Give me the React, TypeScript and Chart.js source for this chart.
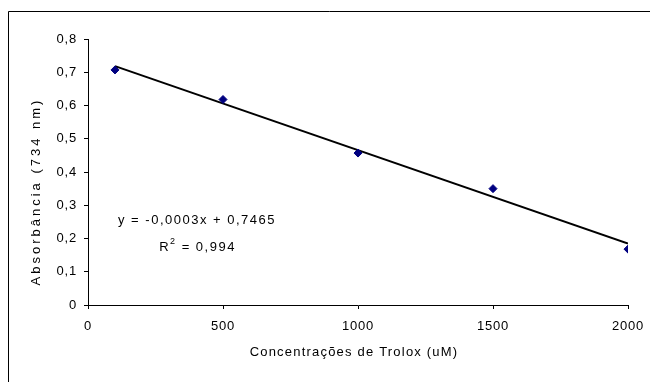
import React, { useEffect, useRef } from 'react';
import { Chart, registerables } from 'chart.js';

Chart.register(...registerables);

// ---- data ----
const concentrations = [100, 500, 1000, 1500, 2000];
const absorbance = [0.707, 0.618, 0.457, 0.35, 0.168];
const xTickValues = [0, 500, 1000, 1500, 2000];
const yTickValues = [0, 0.1, 0.2, 0.3, 0.4, 0.5, 0.6, 0.7, 0.8];
const xTitle = 'Concentrações de Trolox (uM)';
const yTitle = 'Absorbância (734 nm)';
const equationText = 'y = -0,0003x + 0,7465';
const r2Symbol = 'R';
const r2Exponent = '2';
const r2Value = ' = 0,994';

const FONT = '"Liberation Sans", Arial, sans-serif';

function linearFit(xs: number[], ys: number[]) {
  const n = xs.length;
  const mx = xs.reduce((a, b) => a + b, 0) / n;
  const my = ys.reduce((a, b) => a + b, 0) / n;
  let sxy = 0;
  let sxx = 0;
  for (let i = 0; i < n; i++) {
    sxy += (xs[i] - mx) * (ys[i] - my);
    sxx += (xs[i] - mx) * (xs[i] - mx);
  }
  const slope = sxy / sxx;
  return { slope, intercept: my - slope * mx };
}

const fit = linearFit(concentrations, absorbance);
const trendX = [Math.min(...concentrations), Math.max(...concentrations)];
const trendPoints = trendX.map((x) => ({ x, y: fit.slope * x + fit.intercept }));
const points = concentrations.map((x, i) => ({ x, y: absorbance[i] }));

const framePlugin = {
  id: 'frameAndText',
  beforeDraw(chart: any) {
    const ctx = chart.ctx;
    ctx.save();
    ctx.fillStyle = '#ffffff';
    ctx.fillRect(0, 0, chart.width, chart.height);
    ctx.strokeStyle = '#000000';
    ctx.lineWidth = 1;
    ctx.beginPath();
    ctx.moveTo(8.5, chart.height);
    ctx.lineTo(8.5, 11.5);
    ctx.lineTo(chart.width, 11.5);
    ctx.stroke();
    ctx.restore();
    ctx.letterSpacing = '0.8px';
  },
  afterDraw(chart: any) {
    const ctx = chart.ctx;
    ctx.save();
    ctx.fillStyle = '#000000';
    ctx.font = `13px ${FONT}`;
    ctx.textBaseline = 'middle';
    ctx.textAlign = 'center';

    // x axis title
    ctx.letterSpacing = '1.2px';
    ctx.fillText(xTitle, 354, 352.5);

    // y axis title
    ctx.save();
    ctx.translate(36.5, 191.5);
    ctx.rotate(-Math.PI / 2);
    ctx.letterSpacing = '3px';
    ctx.fillText(yTitle, 0, 0);
    ctx.restore();

    // trendline equation
    ctx.letterSpacing = '1.5px';
    ctx.fillText(equationText, 197, 220);

    ctx.textAlign = 'left';
    const wR = ctx.measureText(r2Symbol).width;
    const wV = ctx.measureText(r2Value).width;
    ctx.font = `9px ${FONT}`;
    const wE = ctx.measureText(r2Exponent).width;
    const total = wR + wE + wV;
    let x = 197.5 - total / 2;
    ctx.font = `13px ${FONT}`;
    ctx.fillText(r2Symbol, x, 247.5);
    x += wR;
    ctx.font = `9px ${FONT}`;
    ctx.fillText(r2Exponent, x, 241.5);
    x += wE;
    ctx.font = `13px ${FONT}`;
    ctx.fillText(r2Value, x, 247.5);

    ctx.restore();
    ctx.letterSpacing = '0px';
  },
};

export default function App() {
  const canvasRef = useRef<HTMLCanvasElement | null>(null);

  useEffect(() => {
    const canvas = canvasRef.current;
    if (!canvas) return;
    const chart = new Chart(canvas, {
      type: 'scatter',
      data: {
        datasets: [
          {
            type: 'line',
            label: 'Linear',
            data: trendPoints,
            borderColor: '#000000',
            borderWidth: 2,
            pointRadius: 0,
            fill: false,
            order: 2,
          },
          {
            label: 'Absorbância',
            data: points,
            backgroundColor: '#000080',
            borderColor: '#000080',
            pointStyle: 'rectRot',
            pointRadius: 4,
            borderWidth: 1,
            order: 1,
          },
        ],
      } as any,
      options: {
        animation: false,
        responsive: false,
        devicePixelRatio: 1,
        layout: { padding: { left: 0, top: 39, right: 22, bottom: 0 } },
        plugins: {
          legend: { display: false },
          tooltip: { enabled: false },
        },
        scales: {
          x: {
            type: 'linear',
            min: 0,
            max: 2000,
            afterFit: (scale: any) => {
              scale.height = 77;
              scale.paddingLeft = 0;
              scale.paddingRight = 0;
            },
            afterBuildTicks: (scale: any) => {
              scale.ticks = xTickValues.map((v) => ({ value: v }));
            },
            ticks: {
              color: '#000000',
              font: { family: FONT, size: 13 },
              padding: 10,
              maxRotation: 0,
              callback: (v: any) => String(v),
            },
            grid: { display: true, drawOnChartArea: false, drawTicks: true, tickLength: 4, color: '#000000' },
            border: { display: true, color: '#000000', width: 1 },
          },
          y: {
            type: 'linear',
            min: 0,
            max: 0.8,
            afterFit: (scale: any) => {
              scale.width = 88;
              scale.paddingTop = 0;
              scale.paddingBottom = 0;
            },
            afterBuildTicks: (scale: any) => {
              scale.ticks = yTickValues.map((v) => ({ value: v }));
            },
            ticks: {
              color: '#000000',
              font: { family: FONT, size: 13 },
              padding: 7,
              callback: (v: any) => (v === 0 ? '0' : Number(v).toFixed(1).replace('.', ',')),
            },
            grid: { display: true, drawOnChartArea: false, drawTicks: true, tickLength: 4, color: '#000000' },
            border: { display: true, color: '#000000', width: 1 },
          },
        },
      } as any,
      plugins: [framePlugin],
    });
    return () => chart.destroy();
  }, []);

  return (
    <div style={{ position: 'absolute', left: 0, top: 0, width: 650, height: 382, background: '#ffffff' }}>
      <canvas ref={canvasRef} width={650} height={382} style={{ display: 'block' }} />
    </div>
  );
}
